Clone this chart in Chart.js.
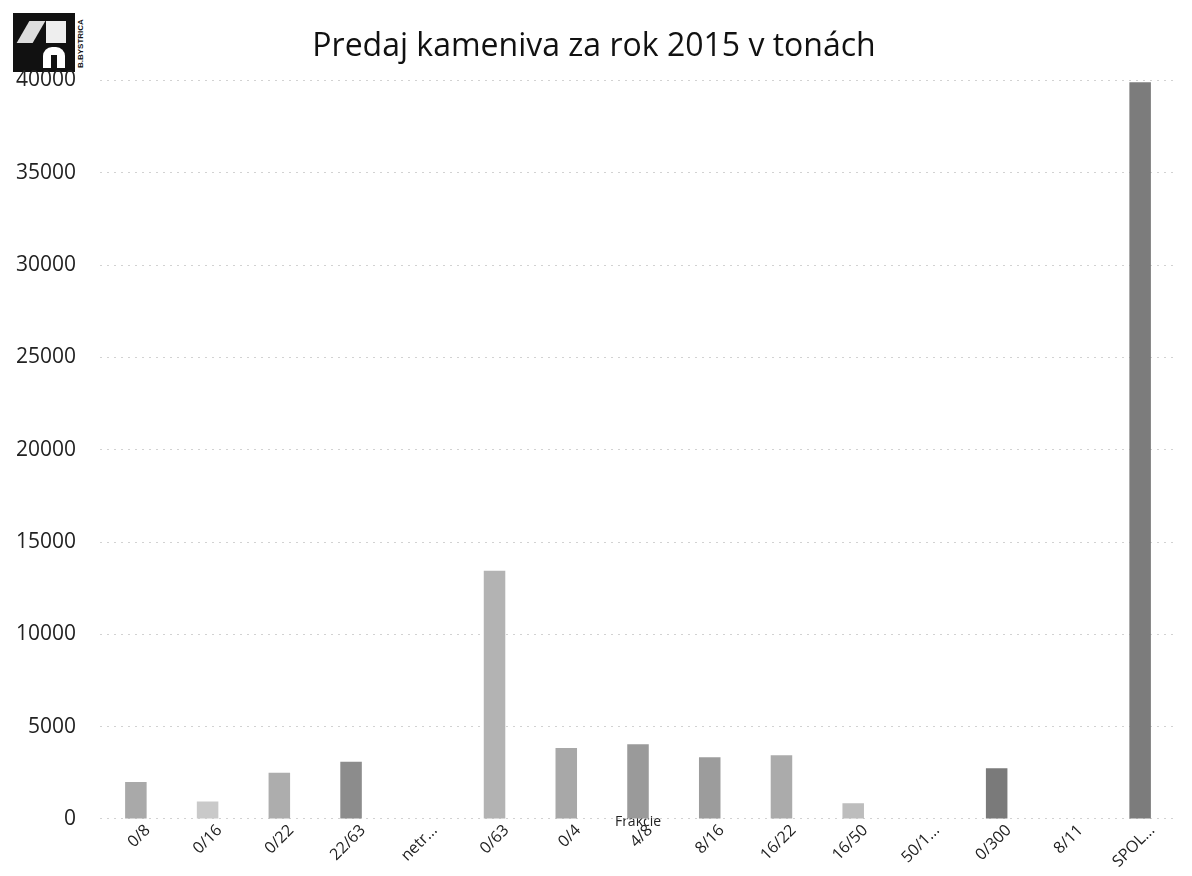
<!DOCTYPE html>
<html>
<head>
<meta charset="utf-8">
<title>Predaj kameniva za rok 2015 v tonách</title>
<script src="https://cdn.jsdelivr.net/npm/chart.js@4/dist/chart.umd.min.js"></script>
<style>
  html, body { margin: 0; padding: 0; background: #fff; }
  #wrap { position: relative; width: 1192px; height: 876px; }
  #chart { position: absolute; left: 0; top: 0; z-index: 2; }
  #logo { position: absolute; left: 13px; top: 13px; width: 62px; height: 59px; background: #111; }
  #logo .a { position: absolute; left: 10px; top: 8px; width: 16px; height: 22px; background: #ddd; transform: skewX(-30deg); }
  #logo .b { position: absolute; left: 33px; top: 8px; width: 20px; height: 22px; background: #eee; }
  #logo .c { position: absolute; left: 30px; top: 34px; width: 22px; height: 21px; background: #fff; border-radius: 9px 9px 0 0; }
  #logo .d { position: absolute; left: 38px; top: 42px; width: 6px; height: 13px; background: #111; }
  #logotext { position: absolute; left: 76px; top: 68px; transform: rotate(-90deg); transform-origin: left top;
              font: bold 8px "Liberation Sans", sans-serif; color: #111; white-space: nowrap; }
</style>
</head>
<body>
<div id="wrap">
  <div id="logo"><div class="a"></div><div class="b"></div><div class="c"></div><div class="d"></div></div>
  <div id="logotext">B.BYSTRICA</div>
  <canvas id="chart" width="1192" height="876"></canvas>
</div>
<script>
// fractions and sold tonnage
const fractions = ['0/8', '0/16', '0/22', '22/63', 'netr...', '0/63', '0/4', '4/8',
  '8/16', '16/22', '16/50', '50/1...', '0/300', '8/11', 'SPOL...'];
const tons = [2000, 950, 2500, 3100, 0, 13450, 3850, 4050,
  3350, 3450, 850, 0, 2750, 0, 39900];
const barGrays = ['#a9a9a9', '#c9c9c9', '#adadad', '#8c8c8c', '#aaaaaa', '#b3b3b3', '#a8a8a8', '#9a9a9a',
  '#9c9c9c', '#ababab', '#bdbdbd', '#aaaaaa', '#7a7a7a', '#aaaaaa', '#7c7c7c'];
const yTicks = [0, 5000, 10000, 15000, 20000, 25000, 30000, 35000, 40000];

const font = '"Open Sans", "Noto Sans", sans-serif';

new Chart(document.getElementById('chart'), {
  type: 'bar',
  data: {
    labels: fractions,
    datasets: [{
      label: 'Frakcie',
      data: tons,
      backgroundColor: barGrays,
      barPercentage: 0.3,
      categoryPercentage: 1,
    }]
  },
  options: {
    responsive: false,
    animation: false,
    layout: { padding: { left: 12, right: 16, top: 0, bottom: 0 } },
    plugins: {
      legend: { display: false },
      tooltip: { enabled: false },
      title: {
        display: true,
        text: 'Predaj kameniva za rok 2015 v tonách',
        color: '#111',
        font: { family: font, size: 32, weight: 'normal' },
        padding: { top: 28, bottom: 14 },
      },
    },
    scales: {
      x: {
        grid: { display: false, drawTicks: false },
        border: { display: false },
        ticks: {
          color: '#222',
          font: { family: font, size: 16 },
          minRotation: 45,
          maxRotation: 45,
          autoSkip: false,
          labelOffset: 12,
          padding: 2,
        },
        title: {
          display: true,
          text: 'Frakcie',
          color: '#222',
          font: { family: font, size: 14 },
          padding: { top: -60, bottom: 46 },
        },
      },
      y: {
        min: 0,
        max: 40000,
        afterBuildTicks: axis => { axis.ticks = yTicks.map(v => ({ value: v })); },
        afterFit: axis => { axis.width = 88; },
        grid: { color: '#d2d2d2', drawTicks: false },
        border: { display: false, dash: [2, 5] },
        ticks: {
          color: '#222',
          font: { family: font, size: 21 },
          padding: 24,
          callback: v => String(v),
        },
      },
    },
  },
});
</script>
</body>
</html>
